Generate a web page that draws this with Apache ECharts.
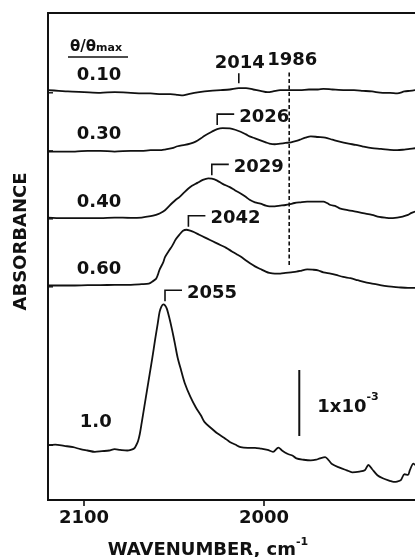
<!DOCTYPE html>
<html>
<head>
<meta charset="utf-8">
<script src="https://cdn.jsdelivr.net/npm/echarts@6/dist/echarts.min.js"></script>
<style>
  html, body { margin: 0; padding: 0; background: #fff; }
  #chart { width: 415px; height: 557px; }
</style>
</head>
<body>
<div id="chart"></div>
<script>
// Coverage (θ/θmax) of each IR spectrum, top to bottom
const coverages = ['0.10', '0.30', '0.40', '0.60', '1.0'];

// Vertical offset of each stacked spectrum, absorbance in units of 1e-3
const offsets = [6.17, 5.29, 4.26, 3.23, 0.83];

// Spectra: [wavenumber (cm-1), absorbance change (1e-3)]
const spec010 = [
  [2120, 0.04], [2114, 0.03], [2109, 0.02], [2100, 0.01], [2091, 0.0], [2083, 0.01], [2074, 0.0],
  [2068, -0.01], [2063, -0.01], [2057, -0.02], [2052, -0.02], [2048, -0.03], [2045, -0.04],
  [2042, -0.02], [2036, 0.01], [2030, 0.03], [2024, 0.04], [2019, 0.05], [2014, 0.07], [2010, 0.07],
  [2006, 0.05], [2002, 0.03], [1998, 0.01], [1995, 0.02], [1991, 0.04], [1986, 0.04], [1980, 0.04],
  [1975, 0.05], [1970, 0.05], [1967, 0.06], [1962, 0.05], [1955, 0.04], [1950, 0.04], [1945, 0.03],
  [1940, 0.02], [1934, 0.0], [1930, 0.0], [1926, -0.01], [1922, 0.02], [1919, 0.03], [1916, 0.04]
];
const spec030 = [
  [2120, -0.01], [2112, -0.01], [2105, -0.01], [2098, 0.0], [2091, 0.0], [2083, -0.01], [2074, 0.0],
  [2068, 0.0], [2063, 0.01], [2058, 0.01], [2055, 0.02], [2051, 0.04], [2048, 0.07], [2044, 0.09],
  [2041, 0.11], [2038, 0.14], [2035, 0.19], [2033, 0.23], [2029, 0.29], [2026, 0.33], [2023, 0.345],
  [2019, 0.34], [2016, 0.32], [2013, 0.29], [2010, 0.25], [2008, 0.22], [2005, 0.19], [2002, 0.16],
  [1999, 0.13], [1997, 0.11], [1994, 0.10], [1991, 0.11], [1988, 0.12], [1985, 0.13], [1982, 0.15],
  [1980, 0.17], [1977, 0.20], [1974, 0.22], [1970, 0.21], [1966, 0.20], [1962, 0.17], [1958, 0.14],
  [1953, 0.11], [1949, 0.09], [1945, 0.065], [1940, 0.04], [1935, 0.03], [1930, 0.015], [1926, 0.01],
  [1922, 0.02], [1919, 0.03], [1916, 0.04]
];
const spec040 = [
  [2120, 0.02], [2112, 0.01], [2105, 0.01], [2098, 0.01], [2091, 0.01], [2083, 0.02], [2074, 0.015],
  [2068, 0.02], [2063, 0.04], [2060, 0.06], [2058, 0.08], [2055, 0.13], [2051, 0.24], [2049, 0.29],
  [2047, 0.33], [2044, 0.41], [2042, 0.46], [2040, 0.50], [2037, 0.545], [2034, 0.59], [2031, 0.614],
  [2029, 0.61], [2026, 0.58], [2023, 0.53], [2019, 0.48], [2016, 0.43], [2013, 0.385], [2010, 0.33],
  [2008, 0.29], [2005, 0.25], [2002, 0.23], [1999, 0.20], [1997, 0.19], [1994, 0.19], [1991, 0.20],
  [1988, 0.21], [1986, 0.22], [1983, 0.24], [1980, 0.25], [1976, 0.26], [1972, 0.26], [1967, 0.26],
  [1965, 0.24], [1963, 0.21], [1960, 0.19], [1958, 0.16], [1953, 0.13], [1949, 0.11], [1945, 0.086],
  [1940, 0.06], [1936, 0.03], [1932, 0.015], [1930, 0.01], [1926, 0.02], [1923, 0.035], [1920, 0.06],
  [1918, 0.09], [1916, 0.11]
];
const spec060 = [
  [2120, 0.02], [2112, 0.02], [2105, 0.02], [2098, 0.025], [2091, 0.025], [2083, 0.03], [2074, 0.03],
  [2068, 0.04], [2064, 0.05], [2062, 0.08], [2060, 0.12], [2059, 0.18], [2058, 0.26], [2056, 0.37],
  [2055, 0.45], [2053, 0.54], [2051, 0.62], [2049, 0.72], [2047, 0.79], [2045, 0.85], [2043, 0.865],
  [2041, 0.85], [2039, 0.83], [2036, 0.79], [2033, 0.75], [2030, 0.71], [2027, 0.67], [2024, 0.63],
  [2021, 0.59], [2018, 0.54], [2015, 0.49], [2013, 0.46], [2010, 0.40], [2008, 0.36], [2005, 0.31],
  [2002, 0.27], [1999, 0.23], [1997, 0.21], [1994, 0.20], [1991, 0.20], [1988, 0.21], [1985, 0.22],
  [1982, 0.23], [1980, 0.24], [1976, 0.265], [1973, 0.26], [1970, 0.25], [1967, 0.22], [1963, 0.20],
  [1960, 0.18], [1956, 0.15], [1952, 0.13], [1948, 0.10], [1944, 0.07], [1940, 0.05], [1936, 0.03],
  [1932, 0.01], [1928, 0.0], [1924, -0.01], [1920, -0.015], [1916, -0.015]
];
const spec100 = [
  [2120, 0.0], [2116, 0.01], [2111, -0.01], [2106, -0.03], [2102, -0.06], [2098, -0.08], [2094, -0.10],
  [2090, -0.09], [2086, -0.08], [2083, -0.06], [2080, -0.07], [2076, -0.08], [2074, -0.07],
  [2072, -0.045], [2071, 0.0], [2070, 0.06], [2069, 0.17], [2068, 0.33], [2066.5, 0.58], [2065, 0.83],
  [2063.5, 1.08], [2062, 1.33], [2060.5, 1.60], [2059, 1.85], [2058, 2.02], [2057, 2.10], [2056, 2.135],
  [2055, 2.12], [2054, 2.07], [2052.5, 1.92], [2051, 1.74], [2049.5, 1.54], [2048, 1.33], [2046, 1.13],
  [2044, 0.94], [2041, 0.74], [2038, 0.58], [2035, 0.45], [2033, 0.35], [2029, 0.25], [2026, 0.18],
  [2022, 0.11], [2019, 0.05], [2016, 0.01], [2013, -0.03], [2009, -0.04], [2005, -0.04], [2002, -0.05],
  [1998, -0.07], [1995, -0.10], [1992, -0.035], [1990, -0.08], [1987, -0.13], [1984, -0.16],
  [1982, -0.20], [1978, -0.22], [1974, -0.23], [1971, -0.22], [1969, -0.20], [1966, -0.18],
  [1964, -0.23], [1962, -0.29], [1958, -0.34], [1954, -0.38], [1951, -0.41], [1947, -0.40],
  [1944, -0.38], [1942, -0.30], [1940, -0.36], [1937, -0.455], [1934, -0.50], [1930, -0.54],
  [1928, -0.556], [1926, -0.55], [1924, -0.53], [1922, -0.44], [1920, -0.45], [1919, -0.38],
  [1917, -0.28], [1916, -0.30]
];
const spectra = [spec010, spec030, spec040, spec060, spec100];

// Wavenumber tick labels
const xTicks = [2100, 2000];

// Peak positions marked with a bracket: [wavenumber, spectrum index]
const peakBrackets = [[2026, 1], [2029, 2], [2042, 3], [2055, 4]];
// Peak marked with a short tick on the lowest-coverage spectrum
const peakTick = [2014, 0];
// Band marked with a dashed vertical line, and its vertical extent (1e-3 units)
const bandLine = 1986;
const bandSpan = [3.56, 6.48];
// Absorbance scale bar: length in 1e-3 units, placed at [wavenumber, base]
const scaleBarLength = 1;
const scaleBarAt = [1980.4, 0.97];

const X_MIN = 1900, X_MAX = 2120;
const FONT = '"DejaVu Sans", "Liberation Sans", sans-serif';
const INK = '#111';

const peakOf = s => Math.max(...s.map(p => p[1]));
const valueAt = (s, w) => {
  for (let i = 0; i < s.length - 1; i++) {
    const [w1, a1] = s[i], [w2, a2] = s[i + 1];
    if ((w - w1) * (w - w2) <= 0) return a1 + (a2 - a1) * (w - w1) / (w2 - w1);
  }
  return 0;
};

// Annotations: baseline ticks, brackets, tick, dashed band line and scale bar
const annotations = [];
offsets.forEach(o => annotations.push({ kind: 'base', value: [X_MAX, o, o], text: '' }));
peakBrackets.forEach(([w, si]) => {
  const v = offsets[si] + peakOf(spectra[si]);
  annotations.push({ kind: 'bracket', value: [w, v, v], text: String(w) });
});
{
  const v = offsets[peakTick[1]] + valueAt(spectra[peakTick[1]], peakTick[0]);
  annotations.push({ kind: 'tick', value: [peakTick[0], v, v], text: String(peakTick[0]) });
}
annotations.push({ kind: 'band', value: [bandLine, bandSpan[0], bandSpan[1]], text: String(bandLine) });
annotations.push({ kind: 'scale', value: [scaleBarAt[0], scaleBarAt[1], scaleBarAt[1] + scaleBarLength], text: '' });

const labelFont = 'bold 18px ' + FONT;

function renderAnnotation(params, api) {
  const item = annotations[params.dataIndex];
  const p = api.coord([api.value(0), api.value(1)]);
  const lineStyle = { stroke: INK, lineWidth: 1.6, fill: null };
  if (item.kind === 'base') {
    return { type: 'line', shape: { x1: p[0], y1: p[1], x2: p[0] + 5, y2: p[1] }, style: { stroke: INK, lineWidth: 1.4 } };
  }
  if (item.kind === 'bracket') {
    const top = p[1] - 14;
    return {
      type: 'group',
      children: [
        { type: 'polyline', shape: { points: [[p[0], p[1] - 3], [p[0], top], [p[0] + 17, top]] }, style: lineStyle },
        { type: 'text', x: p[0] + 22, y: top + 3,
          style: { text: item.text, font: labelFont, fill: INK, align: 'left', verticalAlign: 'middle' } }
      ]
    };
  }
  if (item.kind === 'tick') {
    return {
      type: 'group',
      children: [
        { type: 'line', shape: { x1: p[0], y1: p[1] - 5, x2: p[0], y2: p[1] - 15 }, style: lineStyle },
        { type: 'text', x: p[0] + 1, y: p[1] - 25,
          style: { text: item.text, font: labelFont, fill: INK, align: 'center', verticalAlign: 'middle' } }
      ]
    };
  }
  if (item.kind === 'band') {
    const q = api.coord([api.value(0), api.value(2)]);
    return {
      type: 'group',
      children: [
        { type: 'line', shape: { x1: p[0], y1: p[1], x2: q[0], y2: q[1] },
          style: { stroke: INK, lineWidth: 1.6, lineDash: [4, 2.5] } },
        { type: 'text', x: q[0] + 3, y: q[1] - 12.5,
          style: { text: item.text, font: labelFont, fill: INK, align: 'center', verticalAlign: 'middle' } }
      ]
    };
  }
  // scale bar
  const q = api.coord([api.value(0), api.value(2)]);
  return {
    type: 'group',
    children: [
      { type: 'line', shape: { x1: p[0], y1: p[1], x2: q[0], y2: q[1] }, style: { stroke: INK, lineWidth: 2 } },
      { type: 'text', x: p[0] + 18, y: (p[1] + q[1]) / 2 + 1,
        style: {
          text: '{a|1x10}{s|-3}',
          align: 'left', verticalAlign: 'middle', fill: INK,
          rich: {
            a: { fontSize: 18, fontWeight: 'bold', fontFamily: FONT, lineHeight: 24, verticalAlign: 'bottom', fill: INK },
            s: { fontSize: 11, fontWeight: 'bold', fontFamily: FONT, lineHeight: 13, verticalAlign: 'top', fill: INK }
          }
        } }
    ]
  };
}

const chart = echarts.init(document.getElementById('chart'), null, { renderer: 'canvas' });

const lineSeries = spectra.map((s, i) => ({
  type: 'line',
  name: coverages[i],
  data: s.map(([w, a]) => [w, offsets[i] + a]),
  showSymbol: false,
  smooth: 0.3,
  lineStyle: { color: INK, width: 1.8 },
  silent: true,
  z: 3,
  markPoint: {
    symbol: 'circle', symbolSize: 0, silent: true,
    label: {
      show: true, position: 'right', distance: 0,
      offset: [i === 4 ? 3 : 0, i === 4 ? -23 : -17],
      formatter: coverages[i],
      color: INK, fontFamily: FONT, fontWeight: 'bold', fontSize: 18
    },
    data: [{ coord: [2104, offsets[i]] }]
  }
}));

chart.setOption({
  animation: false,
  backgroundColor: '#fff',
  grid: {
    left: 48, top: 13, width: 396, height: 487,
    outerBoundsMode: 'none',
    containLabel: false,
    show: true, borderColor: INK, borderWidth: 1.8, backgroundColor: 'transparent'
  },
  xAxis: {
    type: 'value', min: X_MIN, max: X_MAX, interval: 100, inverse: true,
    axisLine: { show: true, lineStyle: { color: INK, width: 1.8 } },
    axisTick: { show: true, length: 6, customValues: xTicks, lineStyle: { color: INK, width: 1.6 } },
    axisLabel: {
      show: true, margin: 9, customValues: xTicks,
      formatter: v => (xTicks.includes(v) ? String(v) : ''),
      color: INK, fontFamily: FONT, fontWeight: 'bold', fontSize: 18
    },
    splitLine: { show: false }
  },
  yAxis: {
    type: 'value', min: 0, max: 7.379,
    axisLine: { show: true, lineStyle: { color: INK, width: 1.8 } },
    axisTick: { show: false },
    axisLabel: { show: false },
    splitLine: { show: false }
  },
  graphic: [
    {
      type: 'text', x: 70, y: 46,
      style: {
        text: '{a|θ/θ}{m|max}', verticalAlign: 'middle', align: 'left', fill: INK,
        rich: {
          a: { fontSize: 15, fontWeight: 'bold', fontFamily: FONT, lineHeight: 18, verticalAlign: 'bottom', fill: INK },
          m: { fontSize: 11, fontWeight: 'bold', fontFamily: FONT, lineHeight: 18, verticalAlign: 'bottom', fill: INK, padding: [0, 0, 1, 0] }
        }
      }
    },
    { type: 'line', shape: { x1: 68, y1: 57, x2: 128, y2: 57 }, style: { stroke: INK, lineWidth: 1.5 } },
    {
      type: 'text', x: 21.5, y: 241.5, rotation: Math.PI / 2,
      style: { text: 'ABSORBANCE', font: labelFont, fill: INK, align: 'center', verticalAlign: 'middle' }
    },
    {
      type: 'text', x: 208, y: 548,
      style: {
        text: '{a|WAVENUMBER, cm}{s|-1}', align: 'center', verticalAlign: 'middle', fill: INK,
        rich: {
          a: { fontSize: 18, fontWeight: 'bold', fontFamily: FONT, lineHeight: 22, verticalAlign: 'bottom', fill: INK },
          s: { fontSize: 11, fontWeight: 'bold', fontFamily: FONT, lineHeight: 12, verticalAlign: 'top', fill: INK }
        }
      }
    }
  ],
  series: lineSeries.concat([{
    type: 'custom',
    coordinateSystem: 'cartesian2d',
    dimensions: ['w', 'y1', 'y2'],
    encode: { x: 0, y: [1, 2] },
    data: annotations.map(a => a.value),
    renderItem: renderAnnotation,
    clip: false,
    silent: true,
    z: 4
  }])
});
</script>
</body>
</html>
